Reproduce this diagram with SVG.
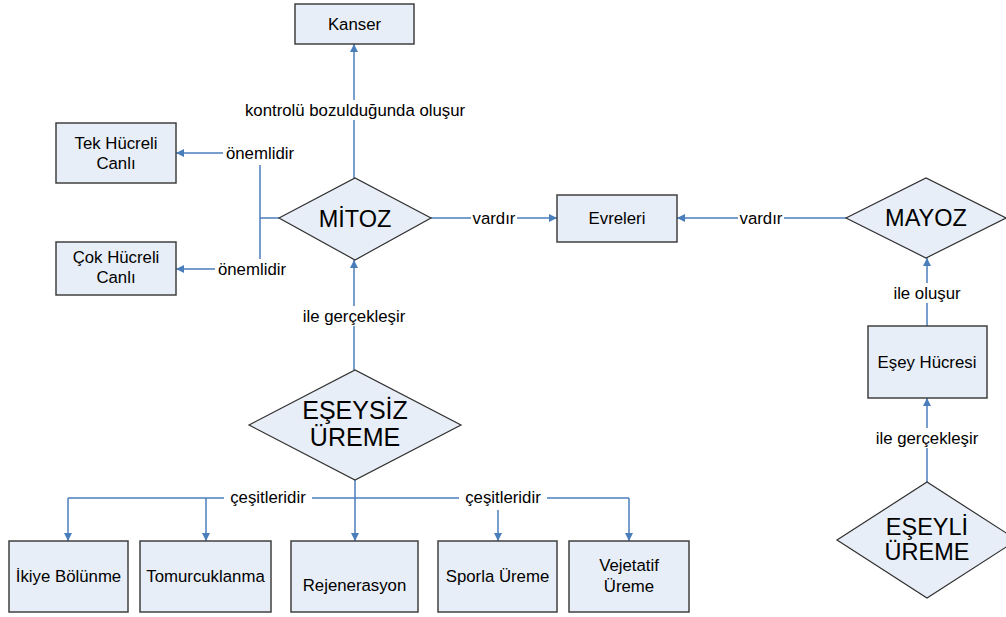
<svg xmlns="http://www.w3.org/2000/svg" width="1006" height="617" viewBox="0 0 1006 617">
<defs>
<marker id="ah" viewBox="0 0 10 10" refX="10" refY="5" markerWidth="8" markerHeight="8" markerUnits="userSpaceOnUse" orient="auto">
<path d="M0,0 L10,5 L0,10 z" fill="#4A7EBB"/>
</marker>
<style>
.box{fill:#E8EEF7;stroke:#404040;stroke-width:1.5}
.dia{fill:#E8EEF7;stroke:#303030;stroke-width:1.2}
.t{font-family:"Liberation Sans",Arial,sans-serif;font-size:16.8px;fill:#000;text-anchor:middle}
.big{font-family:"Liberation Sans",Arial,sans-serif;font-size:23.5px;fill:#000;text-anchor:middle}
.big2{font-family:"Liberation Sans",Arial,sans-serif;font-size:25px;fill:#000;text-anchor:middle}
.c{fill:none;stroke:#4A7EBB;stroke-width:1.5}
.a{marker-end:url(#ah)}
.bg{fill:#fff}
</style>
</defs>
<rect width="1006" height="617" fill="#fff"/>
<g id="connectors">
<path class="c a" d="M354,178 V44"/>
<path class="c" d="M279,218 H260 V153"/>
<path class="c a" d="M260,153 H176"/>
<path class="c a" d="M260,218 V269 H176"/>
<path class="c a" d="M431,218 H557"/>
<path class="c a" d="M846,218 H677"/>
<path class="c a" d="M927,326 V258"/>
<path class="c a" d="M927,482 V398"/>
<path class="c a" d="M354,370 V260"/>
<path class="c a" d="M355,480 V541"/>
<path class="c" d="M68,498 H629"/>
<path class="c a" d="M68,498 V541"/>
<path class="c a" d="M206,498 V541"/>
<path class="c a" d="M498,498 V541"/>
<path class="c a" d="M629,498 V541"/>
<g id="labels">
<rect class="bg" x="241" y="100" width="228" height="20"/>
<text class="t" x="355" y="116">kontrolü bozulduğunda oluşur</text>
<rect class="bg" x="223" y="143" width="74" height="22"/>
<text class="t" x="260" y="159">önemlidir</text>
<rect class="bg" x="215" y="259" width="74" height="20"/>
<text class="t" x="252" y="275">önemlidir</text>
<rect class="bg" x="471" y="209" width="46" height="18"/>
<text class="t" x="494" y="224">vardır</text>
<rect class="bg" x="738" y="209" width="46" height="18"/>
<text class="t" x="761" y="224">vardır</text>
<rect class="bg" x="300" y="306" width="108" height="20"/>
<text class="t" x="354" y="322">ile gerçekleşir</text>
<rect class="bg" x="889" y="283" width="76" height="20"/>
<text class="t" x="927" y="299">ile oluşur</text>
<rect class="bg" x="873" y="428" width="108" height="20"/>
<text class="t" x="927" y="444">ile gerçekleşir</text>
<rect class="bg" x="224" y="488" width="88" height="20"/>
<text class="t" x="268" y="503">çeşitleridir</text>
<rect class="bg" x="459" y="488" width="88" height="22"/>
<text class="t" x="503" y="503">çeşitleridir</text>
</g>
</g>
<g id="kanser"><rect class="box" x="295" y="4" width="119" height="40"/><text class="t" x="354.5" y="30">Kanser</text></g>
<g id="tek"><rect class="box" x="56" y="123" width="120" height="60"/><text class="t" x="116" y="149">Tek Hücreli</text><text class="t" x="116" y="169">Canlı</text></g>
<g id="cok"><rect class="box" x="56" y="242" width="120" height="53"/><text class="t" x="116" y="263">Çok Hücreli</text><text class="t" x="116" y="283">Canlı</text></g>
<g id="mitoz"><path class="dia" d="M279,218 L355,178 L431,218 L355,260 z"/><text class="big" x="355" y="227">MİTOZ</text></g>
<g id="evreleri"><rect class="box" x="557" y="195" width="120" height="47"/><text class="t" x="617" y="224">Evreleri</text></g>
<g id="mayoz"><path class="dia" d="M846,218 L926,178 L1006,218 L926,258 z"/><text class="big" x="926" y="226">MAYOZ</text></g>
<g id="esey-hucresi"><rect class="box" x="868" y="326" width="119" height="72"/><text class="t" x="927" y="368">Eşey Hücresi</text></g>
<g id="eseyli"><path class="dia" d="M837,540 L927,482 L1017,540 L927,598 z"/><text class="big" x="927" y="535">EŞEYLİ</text><text class="big" x="927" y="560">ÜREME</text></g>
<g id="eseysiz"><path class="dia" d="M249,425 L355,370 L461,425 L355,480 z"/><text class="big2" x="355" y="419">EŞEYSİZ</text><text class="big2" x="355" y="446">ÜREME</text></g>
<g id="ikiye"><rect class="box" x="9" y="541" width="119" height="71"/><text class="t" x="68.5" y="582">İkiye Bölünme</text></g>
<g id="tomurcuk"><rect class="box" x="140" y="541" width="131" height="71"/><text class="t" x="205.5" y="582">Tomurcuklanma</text></g>
<g id="rejenerasyon"><rect class="box" x="291" y="541" width="127" height="71"/><text class="t" x="354.5" y="591">Rejenerasyon</text></g>
<g id="sporla"><rect class="box" x="438" y="541" width="119" height="71"/><text class="t" x="497.5" y="582">Sporla Üreme</text></g>
<g id="vejetatif"><rect class="box" x="569" y="541" width="120" height="71"/><text class="t" x="629" y="571">Vejetatif</text><text class="t" x="629" y="592">Üreme</text></g>
</svg>
